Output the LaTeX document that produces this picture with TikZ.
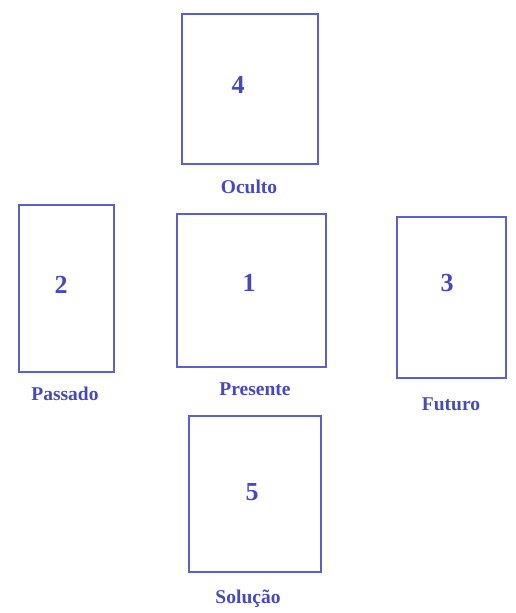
\documentclass[tikz,border=0pt]{standalone}
\usepackage{fontspec}
\setmainfont{Liberation Serif}
\usetikzlibrary{positioning}
\definecolor{CardBlue}{HTML}{5B5FCF}
\definecolor{TextBlue}{HTML}{4649BE}

\begin{document}
\begin{tikzpicture}[
  x=1pt,y=-1pt,
  card/.style={draw=CardBlue,line width=1.5pt,fill=white,inner sep=0pt},
  num/.style={text=TextBlue,font=\fontsize{26}{26}\selectfont\bfseries},
  caption/.style={text=TextBlue,font=\fontsize{19.5}{19.5}\selectfont\bfseries}
]
\useasboundingbox (0,0) rectangle (515,613);
% cards
\node[card,minimum width=136pt,minimum height=150pt] (oculto) at (250,89) {};
\node[card,minimum width=149pt,minimum height=153pt] (presente) at (251.5,290.5) {};
\node[card,minimum width=95pt,minimum height=167pt] (passado) at (66.5,288.5) {};
\node[card,minimum width=109pt,minimum height=161pt] (futuro) at (451.5,297.5) {};
\node[card,minimum width=132pt,minimum height=156pt] (solucao) at (255,494) {};
% numbers
\node[num] (n1) at (249,283) {1};
\node[num] (n2) at (61,285) {2};
\node[num] (n3) at (447,283) {3};
\node[num] (n4) at (238,85) {4};
\node[num] (n5) at (252,492) {5};
% captions
\node[caption] (t4) at (249,187) {Oculto};
\node[caption] (t1) at (255,389) {Presente};
\node[caption] (t2) at (65,394) {Passado};
\node[caption] (t3) at (451,404) {Futuro};
\node[caption] (t5) at (248,599) {Solução};
\end{tikzpicture}
\end{document}
